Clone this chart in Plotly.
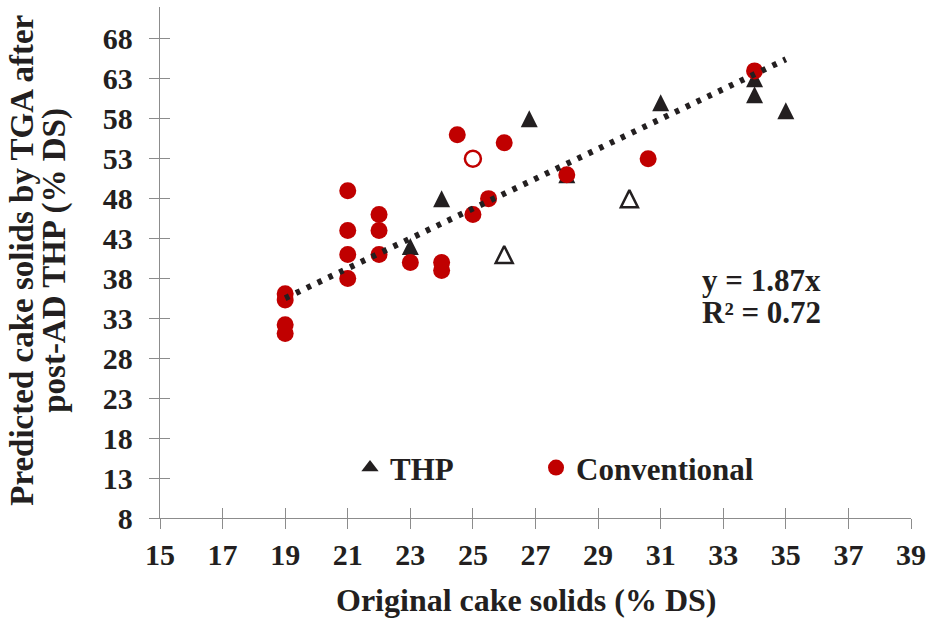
import plotly.graph_objects as go

# Conventional digestion (filled) and the one hollow conventional sample
conv_x = [19, 19, 19, 19, 21, 21, 21, 21, 22, 22, 22, 23, 24, 24, 24.5, 25, 25.5, 26, 28, 30.6, 34]
conv_y = [36.1, 35.3, 32.2, 31.1, 49, 44, 41, 38, 46, 44, 41, 40, 40, 39, 56, 46, 48, 55, 51, 53, 64]
conv_open_x = [25]
conv_open_y = [53]

# THP samples (filled) and the hollow THP samples
thp_x = [23, 24, 26.8, 28, 31, 34, 34, 35]
thp_y = [42, 48, 58, 51, 60, 63, 61, 59]
thp_open_x = [26, 30]
thp_open_y = [41, 48]

# Linear fit through the origin
slope = 1.87
r_squared = 0.72
fit_x = [19, 35]

x_ticks = list(range(15, 40, 2))
y_ticks = list(range(8, 69, 5))

RED = "#C00000"
BLACK = "#231F20"
AXIS = "#8C8C8C"
FONT = "Liberation Serif"
TXT = dict(family=FONT, color=BLACK, weight="bold")

fig = go.Figure()

# Triangle: arrow-down flipped 180 deg with a standoff of half its size,
# which gives a centred triangle as tall as it is wide.
tri_size = 17
tri = dict(symbol="arrow-down", angle=180, standoff=tri_size / 2, size=tri_size)

fig.add_trace(go.Scatter(x=thp_x, y=thp_y, mode="markers", showlegend=False,
                         marker=dict(color=BLACK, **tri)))
fig.add_trace(go.Scatter(x=thp_open_x, y=thp_open_y, mode="markers", showlegend=False,
                         marker=dict(color=BLACK, line=dict(width=2.5, color=BLACK),
                                     **{**tri, "symbol": "arrow-down-open"})))
fig.add_trace(go.Scatter(x=conv_x, y=conv_y, mode="markers", showlegend=False,
                         marker=dict(symbol="circle", size=17, color=RED)))
fig.add_trace(go.Scatter(x=conv_open_x, y=conv_open_y, mode="markers", showlegend=False,
                         marker=dict(symbol="circle-open", size=16, color=RED,
                                     line=dict(width=2.5, color=RED))))

# Trendline on an overlaid axis pair so it sits above the markers
fig.add_trace(go.Scatter(x=fit_x, y=[slope * v for v in fit_x], mode="lines",
                         xaxis="x2", yaxis="y2", showlegend=False,
                         line=dict(color=BLACK, width=6, dash="4.5px,7.5px")))

# Legend entries, one legend box each so they can be placed independently
fig.add_trace(go.Scatter(x=[None], y=[None], mode="markers", name="THP", legend="legend",
                         marker=dict(symbol="triangle-up", size=15, color=BLACK)))
fig.add_trace(go.Scatter(x=[None], y=[None], mode="markers", name="Conventional",
                         legend="legend2",
                         marker=dict(symbol="circle", size=16, color=RED)))

axis_common = dict(showgrid=False, zeroline=False, linecolor=AXIS, linewidth=1.3,
                   tickcolor=AXIS, tickwidth=1.3, ticklen=10)
legend_common = dict(orientation="h", y=0.098, xanchor="left", yanchor="middle",
                     bgcolor="rgba(0,0,0,0)", font=dict(size=31, **TXT),
                     itemsizing="trace")

fig.update_layout(
    width=934, height=620,
    margin=dict(l=160, r=23, t=7, b=102),
    paper_bgcolor="white", plot_bgcolor="white",
    xaxis=dict(range=[15, 39], tickvals=x_ticks, showline=True, ticks="outside",
               tickfont=dict(size=30, **TXT), ticklabelstandoff=0, **axis_common),
    yaxis=dict(range=[8, 72], tickvals=y_ticks, showline=True, ticks="outside",
               tickfont=dict(size=30, **TXT), ticklabelstandoff=10, **axis_common),
    xaxis2=dict(range=[15, 39], tickvals=x_ticks, overlaying="x", anchor="y2",
                ticks="inside", showticklabels=False, showline=False, **axis_common),
    yaxis2=dict(range=[8, 72], tickvals=y_ticks, overlaying="y", anchor="x2",
                ticks="inside", showticklabels=False, showline=False, **axis_common),
    legend=dict(x=0.253, **legend_common),
    legend2=dict(x=0.5007, **legend_common),
    annotations=[
        dict(text="Original cake solids (% DS)", xref="paper", yref="paper",
             x=0.487, y=-0.16, xanchor="center", yanchor="middle", showarrow=False,
             font=dict(size=32, **TXT)),
        dict(text="Predicted cake solids by TGA after", xref="paper", yref="paper",
             x=-0.184, y=0.505, xanchor="center", yanchor="middle", showarrow=False,
             textangle=-90, font=dict(size=33, **TXT)),
        dict(text="post-AD THP (% DS)", xref="paper", yref="paper",
             x=-0.14, y=0.505, xanchor="center", yanchor="middle", showarrow=False,
             textangle=-90, font=dict(size=33, **TXT)),
        dict(text=f"y = {slope}x", xref="x", yref="y", x=32.25, y=37.8,
             xanchor="left", yanchor="middle", showarrow=False, font=dict(size=31, **TXT)),
        dict(text=f"R² = {r_squared}", xref="x", yref="y", x=32.25, y=33.7,
             xanchor="left", yanchor="middle", showarrow=False, font=dict(size=31, **TXT)),
    ],
)

fig.write_html("out.html")
